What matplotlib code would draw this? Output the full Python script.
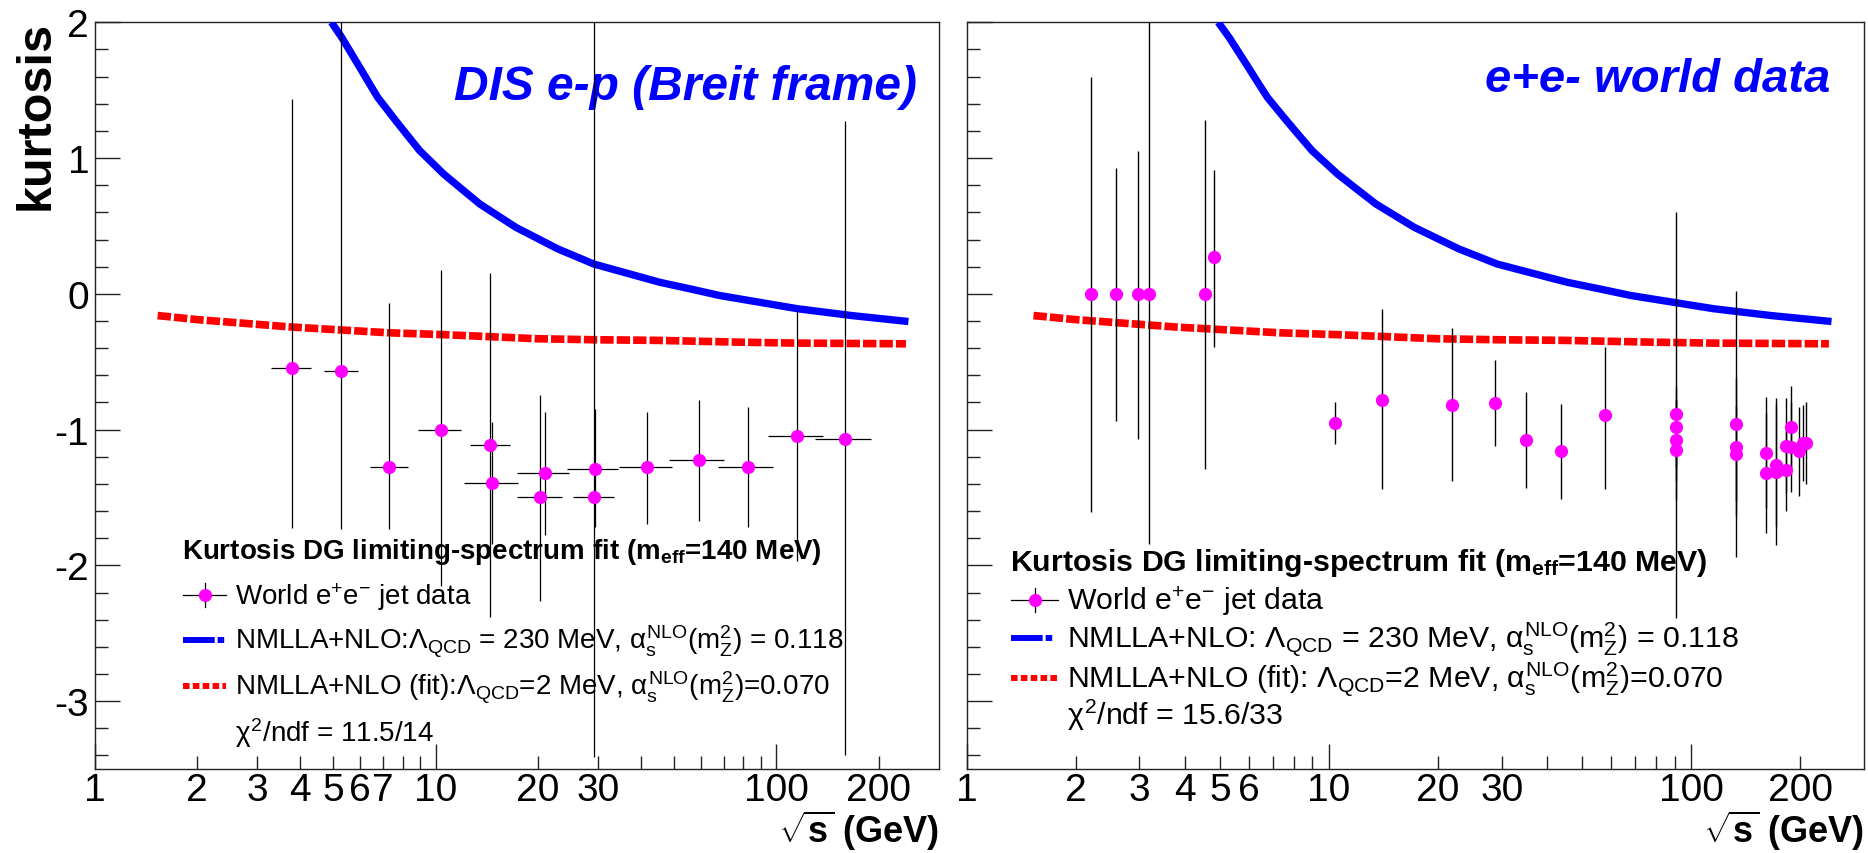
import matplotlib
matplotlib.use("Agg")
import matplotlib.pyplot as plt
import numpy as np
from matplotlib.lines import Line2D
from matplotlib.ticker import FixedLocator, FuncFormatter, MultipleLocator

plt.rcParams["font.family"] = ["Liberation Sans", "DejaVu Sans"]
plt.rcParams["mathtext.fontset"] = "custom"
plt.rcParams["mathtext.rm"] = "Liberation Sans"
plt.rcParams["mathtext.it"] = "Liberation Sans"
plt.rcParams["mathtext.bf"] = "Liberation Sans:bold"
plt.rcParams["axes.unicode_minus"] = False

# NMLLA+NLO prediction (Lambda_QCD = 230 MeV)
nlo_sqrt_s = [4.95, 5.31, 6.0, 6.37, 6.77, 7.65, 8.29, 8.99, 10.57, 11.93,
              13.48, 17.2, 22.84, 29.1, 34.2, 45.5, 55.7, 68.2, 115.5, 166.3,
              244.0]
nlo_kurt = [2.0, 1.887, 1.666, 1.556, 1.446, 1.274, 1.164, 1.054, 0.882, 0.772,
            0.662, 0.49, 0.331, 0.22, 0.171, 0.085, 0.037, -0.0125, -0.11,
            -0.16, -0.204]

# NMLLA+NLO fit (Lambda_QCD = 2 MeV)
fit_sqrt_s = [1.53, 2.0, 3.8, 7.3, 10.4, 20.0, 29.0, 45.0, 78.0, 115.0, 240.0]
fit_kurt = [-0.16, -0.19, -0.245, -0.287, -0.30, -0.331, -0.338, -0.343,
            -0.356, -0.363, -0.368]

# DIS e-p, Breit frame: bin centre, bin edges, kurtosis, lower/upper errors
dis_sqrt_s = [3.8, 5.27, 7.31, 10.36, 14.45, 14.68, 20.3, 20.9, 29.1, 29.4,
              41.6, 59.2, 82.7, 115.0, 159.5]
dis_lo = [3.3, 4.70, 6.43, 8.88, 12.58, 12.08, 17.3, 17.3, 25.3, 24.3,
          34.5, 48.3, 67.6, 94.3, 130.0]
dis_hi = [4.32, 5.92, 8.29, 11.9, 16.51, 17.48, 23.5, 24.6, 33.3, 34.3,
          49.3, 70.1, 97.5, 137.0, 190.0]
dis_kurt = [-0.547, -0.569, -1.275, -1.005, -1.11, -1.39, -1.50, -1.319, -1.50,
            -1.287, -1.275, -1.226, -1.278, -1.05, -1.066]
dis_err_dn = [1.18, 1.16, 0.455, 1.15, 1.27, 0.45, 0.76, 0.458, 1.91, 0.43,
              0.42, 0.446, 0.438, 0.92, 2.33]
dis_err_up = [1.98, 2.8, 1.206, 1.18, 1.264, 0.446, 0.757, 0.449, 3.6, 0.44,
              0.405, 0.441, 0.448, 0.92, 2.34]

# e+e- world data
ee_sqrt_s = [2.21, 2.59, 2.98, 3.18, 4.56, 4.81, 10.4, 14.0, 21.9, 28.8,
             34.9, 43.7, 57.9, 91.1, 91.1, 91.1, 91.1, 132.8, 132.8, 132.8,
             161.0, 161.0, 171.0, 171.0, 183.0, 183.0, 189.0, 189.0, 199.0,
             203.0, 207.0]
ee_kurt = [0.0, 0.0, 0.0, 0.0, 0.0, 0.27, -0.949, -0.785, -0.816, -0.804,
           -1.079, -1.16, -0.895, -0.885, -0.98, -1.08, -1.15, -0.956, -1.128,
           -1.177, -1.17, -1.32, -1.26, -1.31, -1.12, -1.30, -0.98, -1.13,
           -1.16, -1.10, -1.10]
ee_err_dn = [1.606, 0.937, 1.066, 1.843, 1.29, 0.663, 0.16, 0.655, 0.564, 0.319,
             0.351, 0.35, 0.545, 1.5, 0.30, 0.30, 0.37, 0.985, 0.51, 0.35,
             0.41, 0.44, 0.45, 0.54, 0.35, 0.30, 0.30, 0.33, 0.33, 0.28, 0.30]
ee_err_up = [1.598, 0.926, 1.054, 2.5, 1.28, 0.644, 0.152, 0.675, 0.563, 0.314,
             0.359, 0.35, 0.505, 1.49, 0.30, 0.30, 0.37, 0.975, 0.51, 0.35,
             0.41, 0.44, 0.45, 0.54, 0.35, 0.30, 0.30, 0.33, 0.33, 0.28, 0.30]

minor_ticks = [2, 3, 4, 5, 6, 7, 8, 9, 20, 30, 40, 50, 60, 70, 80, 90, 200]
dis_minor_labels = [2, 3, 4, 5, 6, 7, 20, 30, 200]
ee_minor_labels = [2, 3, 4, 5, 6, 20, 30, 200]

W, H = 1868, 854
fig = plt.figure(figsize=(W / 100, H / 100), dpi=100)
ax_l = fig.add_axes([94.7 / W, 84 / H, 844.3 / W, 746.7 / H])
ax_r = fig.add_axes([966.6 / W, 84 / H, 897.4 / W, 746.7 / H])


def fx(px):
    return px / W


def fy(py):
    return 1 - py / H


def style_axes(ax, minor_labels, ylabels=True):
    ax.set_xscale("log")
    ax.set_xlim(1, 300)
    ax.set_ylim(-3.5, 2)
    ax.xaxis.set_major_locator(FixedLocator([1, 10, 100]))
    ax.xaxis.set_minor_locator(FixedLocator(minor_ticks))
    ax.xaxis.set_major_formatter(FuncFormatter(lambda v, p: f"{v:g}"))
    ax.xaxis.set_minor_formatter(
        FuncFormatter(lambda v, p: f"{v:g}" if round(v) in minor_labels else ""))
    ax.yaxis.set_major_locator(MultipleLocator(1))
    ax.yaxis.set_minor_locator(MultipleLocator(0.2))
    ax.tick_params(which="both", direction="in", top=False, right=False,
                   labelsize=28, width=1.0, color="#222222")
    ax.tick_params(which="major", length=18)
    ax.tick_params(which="minor", length=9.4)
    ax.tick_params(axis="x", which="both", pad=2)
    ax.tick_params(axis="y", which="both", pad=4, labelleft=ylabels)
    for sp in ax.spines.values():
        sp.set_linewidth(1.0)
        sp.set_color("#222222")
    ax.set_xlabel(r"$\sqrt{\mathbf{s}}$ (GeV)", fontsize=26, fontweight="bold",
                  loc="right", va="bottom")
    ax.xaxis.set_label_coords(1.0, -0.1115)


def draw_curves(ax):
    ax.plot(nlo_sqrt_s, nlo_kurt, color=(0, 0, 1), lw=5.3,
            solid_capstyle="butt", solid_joinstyle="round", zorder=3)
    ax.plot(fit_sqrt_s, fit_kurt, color=(1, 0, 0), lw=5.5,
            dashes=(1.75, 0.4), dash_capstyle="butt", zorder=3)


def draw_key(title_x, h0, h1, text_x, baselines, size, labels):
    fig.text(fx(title_x), fy(baselines[0]), labels[0], fontsize=size,
             fontweight="bold", va="baseline", ha="left")
    for lab, b in zip(labels[1:], baselines[1:]):
        fig.text(fx(text_x), fy(b), lab, fontsize=size, va="baseline", ha="left")
    hc = [b - 9 for b in baselines[1:4]]
    xc = (h0 + h1) / 2
    # data entry: cross with marker
    fig.add_artist(Line2D([fx(h0), fx(h1)], [fy(hc[0]), fy(hc[0])],
                          transform=fig.transFigure, color="black", lw=0.9))
    fig.add_artist(Line2D([fx(xc), fx(xc)], [fy(hc[0] - 12), fy(hc[0] + 12)],
                          transform=fig.transFigure, color="black", lw=0.9))
    fig.add_artist(Line2D([fx(xc)], [fy(hc[0])], transform=fig.transFigure,
                          marker="o", ms=9.5, mew=0, color="magenta", ls="none"))
    fig.add_artist(Line2D([fx(h0), fx(h1)], [fy(hc[1]), fy(hc[1])],
                          transform=fig.transFigure, color=(0, 0, 1), lw=4.3,
                          dashes=(5.3, 0.5, 1.1, 1.0), dash_capstyle="butt"))
    fig.add_artist(Line2D([fx(h0), fx(h1)], [fy(hc[2]), fy(hc[2])],
                          transform=fig.transFigure, color=(1, 0, 0), lw=4.3,
                          dashes=(1.1, 0.55), dash_capstyle="butt"))


# left panel: DIS e-p
style_axes(ax_l, dis_minor_labels)
draw_curves(ax_l)
xerr = [np.subtract(dis_sqrt_s, dis_lo), np.subtract(dis_hi, dis_sqrt_s)]
ax_l.errorbar(dis_sqrt_s, dis_kurt, xerr=xerr, yerr=[dis_err_dn, dis_err_up],
              fmt="o", color="magenta", ms=9.5, mew=0, ecolor="black",
              elinewidth=0.9, capsize=0, zorder=5)
ax_l.text(0.9736, 0.8973, "DIS e-p (Breit frame)", transform=ax_l.transAxes,
          fontsize=34.5, fontweight="bold", style="italic", color=(0, 0, 1),
          ha="right", va="baseline")
ax_l.text(-0.069, 1.003, "kurtosis", transform=ax_l.transAxes, rotation=90,
          fontsize=35, fontweight="bold", ha="center", va="top")

# right panel: e+e- world data
style_axes(ax_r, ee_minor_labels, ylabels=False)
draw_curves(ax_r)
ax_r.errorbar(ee_sqrt_s, ee_kurt, yerr=[ee_err_dn, ee_err_up], fmt="o",
              color="magenta", ms=9.5, mew=0, ecolor="black", elinewidth=1.0,
              capsize=6, capthick=1.0, zorder=5)
ax_r.text(0.9629, 0.9084, "e+e- world data", transform=ax_r.transAxes,
          fontsize=34, fontweight="bold", style="italic", color=(0, 0, 1),
          ha="right", va="baseline")

title = r"Kurtosis DG limiting-spectrum fit (m$_{\mathbf{eff}}$=140 MeV)"
alpha_txt = r"$\alpha_{s}^{NLO}$(m$_{Z}^{2}$)"
draw_key(181.7, 183, 226, 235, [559, 605, 650, 696, 742], 20, [
    title,
    r"World e$^{+}$e$^{-}$ jet data",
    r"NMLLA+NLO:$\Lambda_{QCD}$ = 230 MeV, " + alpha_txt + " = 0.118",
    r"NMLLA+NLO (fit):$\Lambda_{QCD}$=2 MeV, " + alpha_txt + "=0.070",
    r"$\chi^{2}$/ndf = 11.5/14",
])
draw_key(1009.8, 1011, 1058, 1067, [571, 610, 648, 688, 725], 21.8, [
    title,
    r"World e$^{+}$e$^{-}$ jet data",
    r"NMLLA+NLO: $\Lambda_{QCD}$ = 230 MeV, " + alpha_txt + " = 0.118",
    r"NMLLA+NLO (fit): $\Lambda_{QCD}$=2 MeV, " + alpha_txt + "=0.070",
    r"$\chi^{2}$/ndf = 15.6/33",
])

fig.savefig("out.png", dpi=100)
